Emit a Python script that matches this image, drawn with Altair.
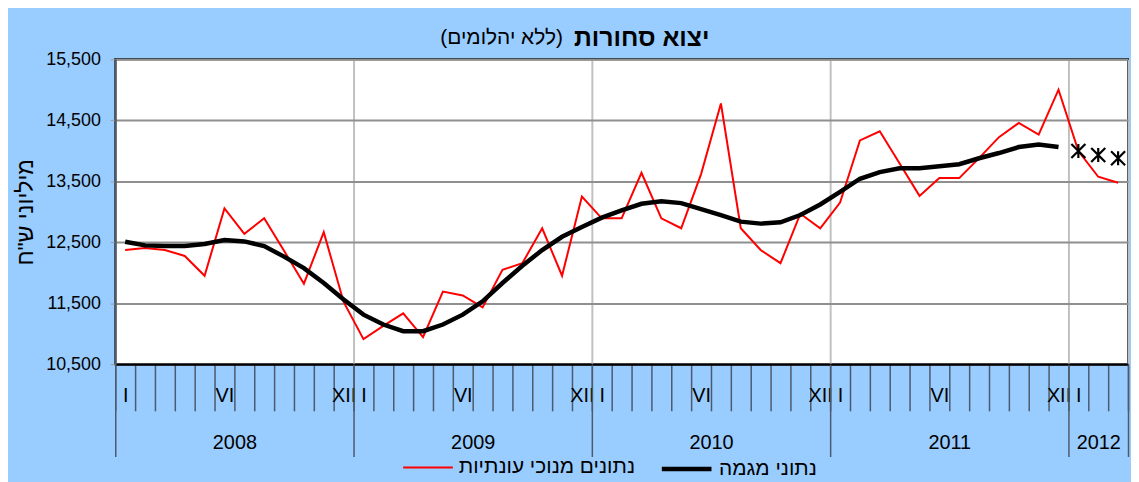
import altair as alt
import pandas as pd

FONT = "Liberation Sans"

years = ["2008", "2009", "2010", "2011", "2012"]
months_per_year = [12, 12, 12, 12, 3]
month_marks = ["I", "", "", "", "", "VI", "", "", "", "", "", "XII"]
y_ticks = [10500, 11500, 12500, 13500, 14500, 15500]
y_tick_labels = ["10,500", "11,500", "12,500", "13,500", "14,500", "15,500"]

sa_name = "נתונים מנוכי עונתיות"
trend_name = "נתוני מגמה"
title_bold = "יצוא סחורות"
title_rest = "(ללא יהלומים)"
y_title = 'מיליוני ש"ח'

sa_values = [
    12372, 12405, 12372, 12275, 11950, 13054, 12637, 12892, 12360, 11820, 12665, 11520,
    10911, 11128, 11333, 10944, 11690, 11626, 11431, 12048, 12156, 12729, 11950, 13249,
    12892, 12892, 13639, 12892, 12729, 13617, 14775, 12729, 12372, 12156, 12968, 12729,
    13151, 14169, 14320, 13790, 13260, 13552, 13552, 13880, 14223, 14456, 14266, 15002,
    13995, 13574, 13476,
]
trend_values = [
    12508, 12448, 12437, 12437, 12470, 12535, 12513, 12437, 12264, 12075, 11831, 11560,
    11312, 11150, 11041, 11041, 11150, 11312, 11530, 11831, 12113, 12372, 12589, 12751,
    12903, 13022, 13130, 13173, 13141, 13043, 12946, 12838, 12805, 12827, 12946, 13119,
    13325, 13541, 13649, 13714, 13714, 13747, 13779, 13877, 13963, 14061, 14104, 14061,
]
est_values = [13996, 13931, 13877]

n = len(sa_values)
sa = pd.DataFrame({"pos": [i + 0.5 for i in range(n)], "value": sa_values, "series": sa_name})
tr = pd.DataFrame({"pos": [i + 0.5 for i in range(len(trend_values))], "value": trend_values,
                   "series": trend_name})
est = pd.DataFrame({"pos": [len(trend_values) + i + 0.5 for i in range(len(est_values))],
                    "value": est_values})

# year boundaries and centres (in month units)
bounds = [0]
for m in months_per_year:
    bounds.append(bounds[-1] + m)
centres = [(bounds[i] + bounds[i + 1]) / 2 for i in range(len(years))]

month_expr = "[" + ",".join("'%s'" % m for m in month_marks) + "][datum.value % 12]"
year_expr = "[" + ",".join("'%s'" % y for y in years) + "][floor(datum.value / 12)]"
ystep = y_ticks[1] - y_ticks[0]
ylab_expr = ("[" + ",".join("'%s'" % s for s in y_tick_labels) + "]"
             + "[round((datum.value - %d) / %d)]" % (y_ticks[0], ystep))

xscale = alt.Scale(domain=[0, n], nice=False, zero=False)
yscale = alt.Scale(domain=[y_ticks[0], y_ticks[-1]], nice=False, zero=False)

yenc = alt.Y("value:Q", scale=yscale, axis=alt.Axis(
    values=y_ticks, labelExpr=ylab_expr, orient="left", tickSize=5, tickColor="#999999",
    domainColor="#4d5a6b", domainWidth=2, grid=True, gridColor="#8f8f8f", gridWidth=2,
    labelFontSize=18, labelFont=FONT, labelColor="black", labelPadding=10,
    title=y_title, titleFont=FONT, titleFontSize=23, titleFontWeight="normal",
    titleColor="black", titlePadding=8))

axis_months = alt.Axis(
    values=list(range(n + 1)), orient="bottom", tickSize=47, tickColor="#4d5a6b",
    tickWidth=1.5, domainColor="black", domainWidth=2, grid=False, labelExpr=month_expr,
    labelOffset=10, labelFontSize=20, labelFont=FONT, labelColor="black",
    labelBaseline="middle", labelPadding=-15, labelFlush=False, labelOverlap=False,
    labelBound=False, title=None)

axis_years_lines = alt.Axis(
    values=bounds, orient="bottom", tickSize=93, tickColor="#4d5a6b", tickWidth=1.5,
    domain=False, grid=True, gridColor="#c0c0c0", gridWidth=2, labels=False, title=None)

axis_year_labels = alt.Axis(
    values=centres, orient="bottom", ticks=False, tickSize=0, domain=False, grid=False,
    labelExpr=year_expr, labelFontSize=20, labelFont=FONT, labelColor="black",
    labelBaseline="middle", labelPadding=79, labelFlush=False, labelOverlap=False,
    labelBound=False, title=None)

red = alt.Chart(sa).mark_line(strokeWidth=2).encode(
    x=alt.X("pos:Q", scale=xscale, axis=axis_months),
    y=yenc,
    color=alt.Color("series:N", scale=alt.Scale(domain=[sa_name], range=["#ff0000"]),
                    legend=alt.Legend(orient="none", legendX=289, legendY=385, title=None,
                                      symbolType="stroke", symbolSize=2500,
                                      symbolStrokeWidth=2, labelFontSize=21, labelFont=FONT,
                                      labelColor="black", padding=0, labelOffset=5,
                                      labelLimit=400)),
)

black = alt.Chart(tr).mark_line(strokeWidth=4.5).encode(
    x=alt.X("pos:Q", scale=xscale, axis=axis_years_lines),
    y=yenc,
    color=alt.Color("series:N", scale=alt.Scale(domain=[trend_name], range=["#000000"]),
                    legend=alt.Legend(orient="none", legendX=548, legendY=385, title=None,
                                      symbolType="stroke", symbolSize=2500,
                                      symbolStrokeWidth=4.5, labelFontSize=21, labelFont=FONT,
                                      labelColor="black", padding=0, labelOffset=5,
                                      labelLimit=400)),
)

stars = alt.Chart(est).mark_point(
    shape="M-1,-1L1,1M-1,1L1,-1M0,-1L0,1", size=200, filled=False, color="black",
    strokeWidth=2.2, opacity=1).encode(
    x=alt.X("pos:Q", scale=xscale, axis=axis_year_labels),
    y=yenc,
)

title_df = pd.DataFrame({"a": [0]})
t_bold = alt.Chart(title_df).mark_text(
    text=title_bold, font=FONT, fontSize=25, fontWeight="bold", align="left",
    baseline="middle", color="black").encode(x=alt.value(462), y=alt.value(-21))
t_rest = alt.Chart(title_df).mark_text(
    text=title_rest, font=FONT, fontSize=21, fontWeight="normal", align="right",
    baseline="middle", color="black").encode(x=alt.value(451), y=alt.value(-21))

chart = alt.layer(red, black, stars, t_bold, t_rest).resolve_scale(
    color="independent").resolve_axis(x="independent").properties(
    width=1020, height=307,
    autosize=alt.AutoSizeParams(type="none"),
    padding={"left": 108, "top": 50, "right": 3, "bottom": 117},
).configure(background="#99ccff").configure_view(
    fill="white", stroke="black", strokeWidth=2)

chart.save("out.html", embed_options={"renderer": "svg", "actions": False})
